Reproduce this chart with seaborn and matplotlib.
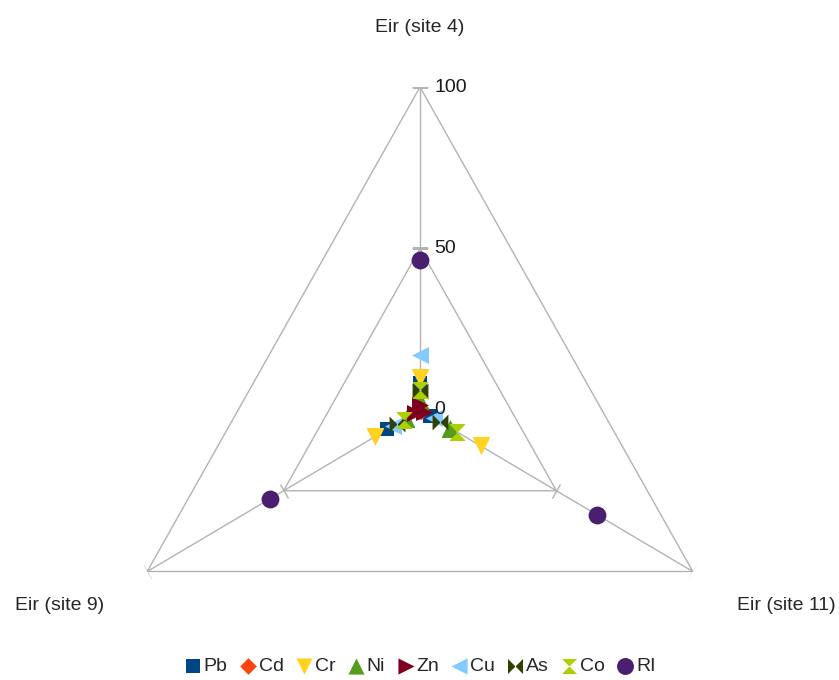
import numpy as np
import matplotlib
matplotlib.use('Agg')
import matplotlib.pyplot as plt
from matplotlib.path import Path
from matplotlib.markers import MarkerStyle
from matplotlib.transforms import Affine2D, offset_copy
import seaborn as sns

# axes of the radar (clockwise from top)
sites = ['Eir (site 4)', 'Eir (site 11)', 'Eir (site 9)']
elements = ['Pb', 'Cd', 'Cr', 'Ni', 'Zn', 'Cu', 'As', 'Co', 'RI']

# values: site 4, site 11, site 9
pb = [8.5, 3.7, 12]
cd = [0.5, 0.5, 0.5]
cr = [10, 22.5, 16.5]
ni = [3, 11, 5]
zn = [1.5, 1.5, 2]
cu = [17, 5, 10]
as_ = [6, 7.5, 8.5]
co = [6.2, 13.5, 6]
ri = [46.5, 65, 55]

r_ticks = [0, 50, 100]

colors = ['#004586', '#ff420e', '#ffd320', '#579d1c', '#7e0021',
          '#83caff', '#314004', '#aecf00', '#4b1f6f']

bowtie_h = Path([(-1, 1), (-1, -1), (1, 1), (1, -1), (-1, 1)])
bowtie_v = Path([(-1, 1), (1, 1), (-1, -1), (1, -1), (-1, 1)])
markers = ['s', 'D', 'v', '^', '>', '<', bowtie_h, bowtie_v, 'o']
sizes = [115, 80, 150, 150, 150, 150, 130, 130, 165]

series = [pb, cd, cr, ni, zn, cu, as_, co, ri]

sns.set_theme(style='white')
plt.rcParams['font.family'] = ['Liberation Sans', 'DejaVu Sans']

fig = plt.figure(figsize=(8.39, 6.80), dpi=100)
w, h = 630 / 839, 646 / 680
cx, cy = 420 / 839, 1 - 410 / 680
ax = fig.add_axes([cx - w / 2, cy - h / 2, w, h], projection='polar')
ax.set_aspect('auto')

theta = np.pi / 2 - np.arange(len(sites)) * 2 * np.pi / 3
theta_closed = np.append(theta, theta[0])

grid_col = '#b3b3b3'
for r in r_ticks[1:]:
    ax.plot(theta_closed, [r] * len(theta_closed), color=grid_col, lw=1, zorder=1)
for t in theta:
    ax.plot([t, t], [0, r_ticks[-1]], color=grid_col, lw=1, zorder=1)
    tick_m = MarkerStyle('_', transform=Affine2D().rotate_deg(np.degrees(t) + 90))
    ax.plot([t] * len(r_ticks), r_ticks, linestyle='none', marker=tick_m,
            markersize=12, markeredgewidth=1, color=grid_col, zorder=1)

for name, vals, c, m, s in zip(elements, series, colors, markers, sizes):
    sns.scatterplot(x=theta, y=vals, marker=m, color=c, s=s, linewidth=0,
                    ax=ax, label=name, legend=False, zorder=3)

ax.set_ylim(0, 100)
ax.grid(False)
ax.set_xticks([])
ax.set_yticks([])
ax.spines['polar'].set_visible(False)
ax.set_xlabel('')
ax.set_ylabel('')

lab_tr = offset_copy(ax.transData, fig=fig, x=14, y=0, units='dots')
for r in r_ticks:
    ax.text(theta[0], r, str(r), transform=lab_tr, ha='left', va='center',
            fontsize=14, color='#1a1a1a')

fig.text(420 / 839, 1 - 27 / 680, sites[0], ha='center', va='center', fontsize=14)
fig.text(786 / 839, 1 - 606 / 680, sites[1], ha='center', va='center', fontsize=14)
fig.text(60 / 839, 1 - 606 / 680, sites[2], ha='center', va='center', fontsize=14)

handles, labels = ax.get_legend_handles_labels()
fig.legend(handles, labels, loc='lower center', bbox_to_anchor=(0.5, -0.01), ncol=9,
           frameon=False, fontsize=14, handletextpad=0.05, columnspacing=0.55,
           handlelength=1.0, borderaxespad=0.2, markerscale=0.95)

fig.savefig('out.png', dpi=100)
plt.close(fig)
